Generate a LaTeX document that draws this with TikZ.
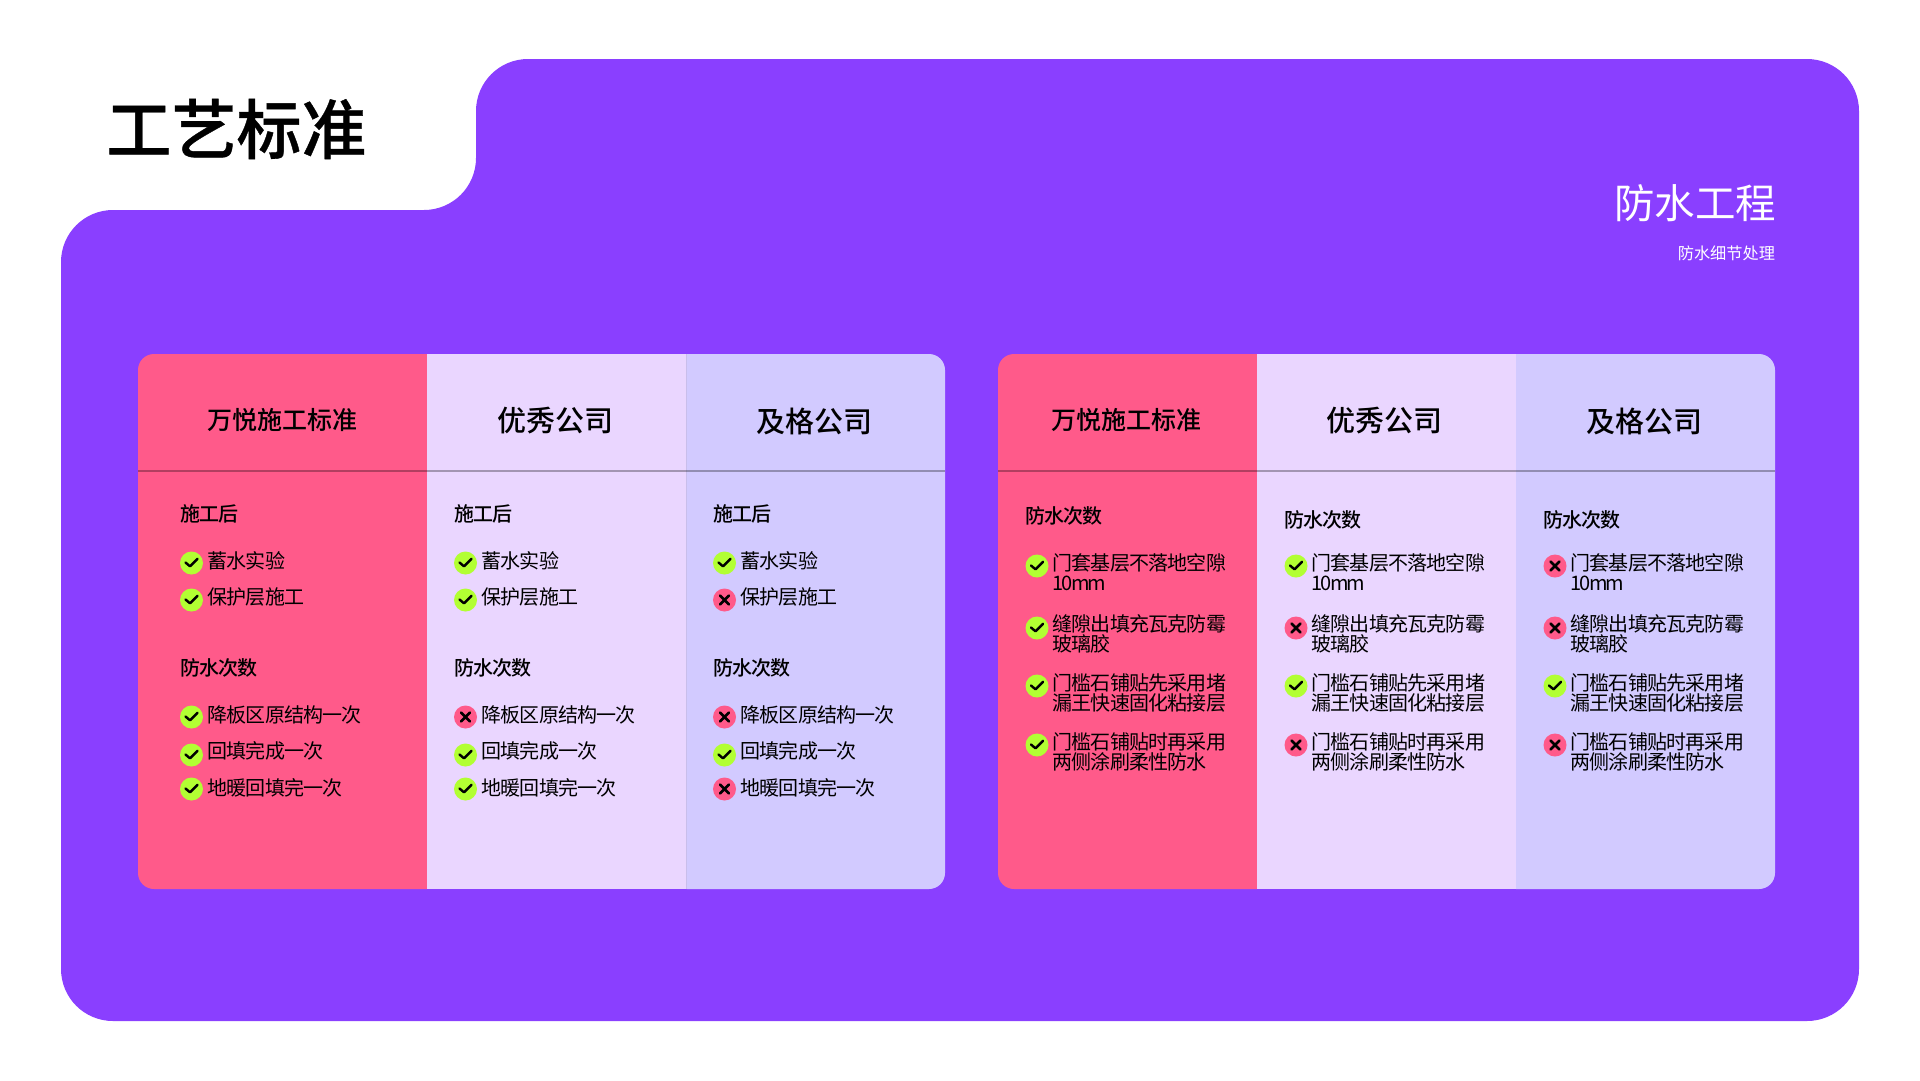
\documentclass[tikz,border=0pt]{standalone}
\usepackage{fontspec}
\setmainfont{Noto Sans CJK SC}[BoldFont={* Medium}]
\newfontfamily\tightcjk[LetterSpace=-4,BoldFont={* Medium}]{Noto Sans CJK SC}
\newfontfamily\heavycjk[FakeBold=0.6]{Noto Sans CJK SC Medium}
\newcommand{\tightlatin}[1]{{\addfontfeature{LetterSpace=-9}#1}}
\definecolor{bgpurple}{HTML}{8A3FFF}
\definecolor{rosecol}{HTML}{FF5A8A}
\definecolor{lilaccol}{HTML}{EAD6FF}
\definecolor{bluecol}{HTML}{D2CAFF}
\definecolor{limedot}{HTML}{B2FF33}
\begin{document}
\begin{tikzpicture}
  [x=1pt,y=-1pt,every node/.style={inner sep=0pt,outer sep=0pt}]
  \tikzstyle{okdot} = [circle,fill=limedot,minimum size=23pt,
    path picture={\draw[line width=2.4pt,line cap=round,line join=round] (path picture bounding box.center) ++(-6,-.5) -- ++(4.5,3.8) -- ++(7.5,-7.5);}]
  \tikzstyle{nodot} = [circle,fill=rosecol,minimum size=23pt,
    path picture={\draw[line width=2.6pt,line cap=round] (path picture bounding box.center) ++(-4.5,-4.5) -- ++(9,9) ++(0,-9) -- ++(-9,9);}]
  \tikzstyle{itemtext} = [anchor=west,align=left,font=\tightcjk\fontsize{20}{20}\selectfont]
  \tikzstyle{subhead} = [anchor=west,font=\tightcjk\bfseries\fontsize{20}{20}\selectfont]
  \tikzstyle{colhead} = [font=\bfseries\fontsize{29}{30}\selectfont]
  \tikzstyle{divider} = [draw=black,opacity=.3,line width=2pt]

  \useasboundingbox (0,0) rectangle (1920,1080);

  % background
  \fill[bgpurple,rounded corners=52pt] (61,210) -- (476,210) -- (476,59) -- (1859,59) -- (1859,1021) -- (61,1021) -- cycle;

  \node[font=\heavycjk\fontsize{65}{70}\selectfont] (title) at (236.5,129) {工艺标准};
  \node[anchor=east,text=white,font=\fontsize{40.5}{44}\selectfont] (topic) at (1776,203) {防水工程};
  \node[anchor=east,text=white,font=\fontsize{16.2}{18}\selectfont] (topicsub) at (1775,253) {防水细节处理};

  % left table
  \fill[rosecol] (427,354) [rounded corners=16pt] -- (138,354) -- (138,889) [sharp corners] -- (427,889) -- cycle;
  \fill[lilaccol] (427,354) rectangle (686.5,889);
  \fill[bluecol] (686.5,354) [rounded corners=16pt] -- (945,354) -- (945,889) [sharp corners] -- (686.5,889) -- cycle;
  \coordinate (sa) at (686.5,354);
  \coordinate (sb) at (686.5,889);
  \draw[bluecol!85!black,opacity=.5,line width=.8pt] (sa) -- (sb);
  % right table
  \fill[rosecol] (1257,354) [rounded corners=16pt] -- (998,354) -- (998,889) [sharp corners] -- (1257,889) -- cycle;
  \fill[lilaccol] (1257,354) rectangle (1516,889);
  \fill[bluecol] (1516,354) [rounded corners=16pt] -- (1775,354) -- (1775,889) [sharp corners] -- (1516,889) -- cycle;

  \coordinate (la) at (138,471);
  \coordinate (lb) at (945,471);
  \coordinate (ra) at (998,471);
  \coordinate (rb) at (1775,471);
  \draw[divider] (la) -- (lb);
  \draw[divider] (ra) -- (rb);

  \foreach \name/\cx in {la/282,ra/1126}
    \node[font=\bfseries\fontsize{25}{30}\selectfont] (h\name) at (\cx,420) {万悦施工标准};
  \foreach \name/\cx/\txt in {lb/555/优秀公司,lc/814/及格公司,rb/1384/优秀公司,rc/1644/及格公司}
    \node[colhead] (h\name) at (\cx,421) {\txt};

  % left table, columns
  \foreach \col/\cx/\ka/\kb/\kc/\kd/\ke in {a/191.5/okdot/okdot/okdot/okdot/okdot,b/465.5/okdot/okdot/nodot/okdot/okdot,c/724.5/okdot/nodot/nodot/okdot/nodot} {
    \node[subhead] (s1\col) at (\cx-11.5,514) {施工后};
    \node[subhead] (s2\col) at (\cx-11.5,668) {防水次数};
    \foreach \row/\kind/\y/\ty/\txt in {1/\ka/563/561/蓄水实验,2/\kb/600/597/保护层施工,3/\kc/717/715/降板区原结构一次,4/\kd/755/751/回填完成一次,5/\ke/789/788/地暖回填完一次} {
      \node[\kind] (d\col\row) at (\cx,\y) {};
      \node[itemtext] (t\col\row) at (\cx+16,\ty) {\txt};
    }
  }

  % right table, columns
  \foreach \col/\cx/\hy/\ka/\kb/\kc/\kd in {d/1037/516/okdot/okdot/okdot/okdot,e/1296/520/okdot/nodot/okdot/nodot,f/1555/520/nodot/nodot/okdot/nodot} {
    \node[subhead] (s3\col) at (\cx-12,\hy) {防水次数};
    \foreach \row/\kind/\y/\ty/\txt in {1/\ka/566/572/门套基层不落地空隙\\\tightlatin{10mm},2/\kb/628/634/缝隙出填充瓦克防霉\\玻璃胶,3/\kc/686/693/门槛石铺贴先采用堵\\漏王快速固化粘接层,4/\kd/745/752/门槛石铺贴时再采用\\两侧涂刷柔性防水} {
      \node[\kind] (d\col\row) at (\cx,\y) {};
      \node[itemtext] (t\col\row) at (\cx+15.5,\ty) {\txt};
    }
  }
\end{tikzpicture}
\end{document}
